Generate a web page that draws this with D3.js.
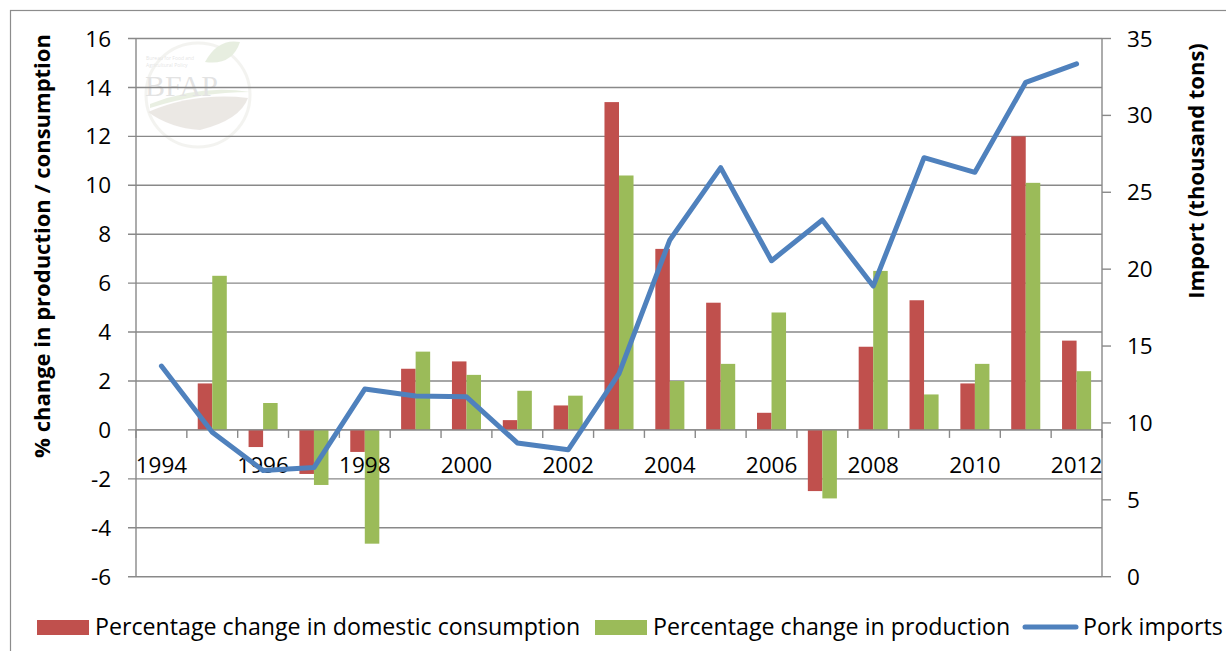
<!DOCTYPE html>
<html><head><meta charset="utf-8">
<script src="https://cdn.jsdelivr.net/npm/d3@7/dist/d3.min.js"></script>
<style>
body{margin:0;background:#fff;}
svg{display:block;font-family:"Open Sans",Lato,sans-serif;}
</style></head>
<body><svg id="c" width="1226" height="651"></svg>
<script>
const years = ["1994","1995","1996","1997","1998","1999","2000","2001","2002","2003","2004","2005","2006","2007","2008","2009","2010","2011","2012"];
const consumption = [null,1.9,-0.7,-1.8,-0.9,2.5,2.8,0.4,1.0,13.4,7.4,5.2,0.7,-2.5,3.4,5.3,1.9,12.0,3.65];
const production = [null,6.3,1.1,-2.25,-4.65,3.2,2.25,1.6,1.4,10.4,2.0,2.7,4.8,-2.8,6.5,1.45,2.7,10.1,2.4];
const imports = [13.7,9.4,6.9,7.1,12.2,11.75,11.7,8.7,8.25,13.2,21.9,26.6,20.55,23.2,18.9,27.25,26.3,32.15,33.35];
const leftTicks = [-6,-4,-2,0,2,4,6,8,10,12,14,16];
const rightTicks = [0,5,10,15,20,25,30,35];
const xLabels = ["1994","1996","1998","2000","2002","2004","2006","2008","2010","2012"];
const seriesNames = ["Percentage change in domestic consumption","Percentage change in production","Pork imports"];
const colors = {cons:"#C0504D", prod:"#9BBB59", imp:"#4F81BD"};

const svg = d3.select("#c");
const L = 136, R = 1102, T = 38.5, B = 576.7;
const x = d3.scaleBand().domain(years).range([L,R]).padding(0);
const bw = x.bandwidth(), barW = bw/3.5;
const xs = d3.scaleBand().domain(["cons","prod"]).range([0.75*barW, bw-0.75*barW]).padding(0);
const yL = d3.scaleLinear().domain([-6,16]).range([B,T]);
const yR = d3.scaleLinear().domain([0,35]).range([B,T]);
const grid = "#898989";

// outer border
svg.append("rect").attr("x",10.5).attr("y",10.5).attr("width",1240).attr("height",670)
  .attr("fill","none").attr("stroke","#8c8c8c").attr("stroke-width",1.2);

// watermark logo
const wm = svg.append("g").attr("opacity",0.16);
wm.append("circle").attr("cx",198).attr("cy",95).attr("r",52).attr("fill","none").attr("stroke","#b9b9a5").attr("stroke-width",3);
wm.append("path").attr("d","M148,112 Q195,92 248,98 Q240,120 200,130 Q170,128 148,112 Z").attr("fill","#8a7460");
wm.append("path").attr("d","M150,104 Q200,84 250,92 Q200,92 150,108 Z").attr("fill","#7aa050");
wm.append("path").attr("d","M205,62 Q218,38 240,42 Q232,66 205,62 Z").attr("fill","#6f9a45");
wm.append("text").attr("x",145).attr("y",96).attr("font-family","Liberation Serif,serif").attr("font-size",30).attr("fill","#555").text("BFAP");
wm.append("text").attr("x",146).attr("y",60).attr("font-size",5).attr("fill","#555").text("Bureau for Food and");
wm.append("text").attr("x",146).attr("y",67).attr("font-size",5).attr("fill","#555").text("Agricultural Policy");

// gridlines
svg.append("g").selectAll("line").data(leftTicks).join("line")
  .attr("x1",L-8).attr("x2",R).attr("y1",d=>yL(d)).attr("y2",d=>yL(d))
  .attr("stroke",grid).attr("stroke-width",1.4);
// left axis line
svg.append("line").attr("x1",L).attr("x2",L).attr("y1",T).attr("y2",B).attr("stroke",grid).attr("stroke-width",1.4);
// right axis
svg.append("line").attr("x1",R).attr("x2",R).attr("y1",T).attr("y2",B).attr("stroke",grid).attr("stroke-width",1.4);
svg.append("g").selectAll("line").data(rightTicks).join("line")
  .attr("x1",R).attr("x2",R+9).attr("y1",d=>yR(d)).attr("y2",d=>yR(d)).attr("stroke",grid).attr("stroke-width",1.4);

// left tick labels
svg.append("g").selectAll("text").data(leftTicks).join("text")
  .attr("x",111).attr("y",d=>yL(d)).attr("dy","0.36em").attr("text-anchor","end")
  .attr("font-size",22.5).attr("fill","#000").text(d=>d);
// right tick labels
svg.append("g").selectAll("text").data(rightTicks).join("text")
  .attr("x",1127).attr("y",d=>yR(d)).attr("dy","0.36em").attr("text-anchor","start")
  .attr("font-size",22.5).attr("fill","#000").text(d=>d);

// bars
const barG = svg.append("g");
years.forEach((yr,i)=>{
  [["cons",consumption[i]],["prod",production[i]]].forEach(([k,v])=>{
    if(v==null) return;
    barG.append("rect").attr("x",x(yr)+xs(k)).attr("width",xs.bandwidth())
      .attr("y",yL(Math.max(0,v))).attr("height",Math.abs(yL(v)-yL(0)))
      .attr("fill",colors[k]);
  });
});

// x axis line at 0 and ticks
const y0 = yL(0);
svg.append("line").attr("x1",L).attr("x2",R).attr("y1",y0).attr("y2",y0).attr("stroke",grid).attr("stroke-width",1.4);
const bounds = years.map(d=>x(d)).concat([R]);
svg.append("g").selectAll("line").data(bounds).join("line")
  .attr("x1",d=>d).attr("x2",d=>d).attr("y1",y0).attr("y2",y0+8).attr("stroke",grid).attr("stroke-width",1.4);
// x labels
svg.append("g").selectAll("text").data(xLabels).join("text")
  .attr("x",d=>x(d)+bw/2).attr("y",465).attr("dy","0.36em").attr("text-anchor","middle")
  .attr("font-size",22.5).attr("fill","#000").text(d=>d);

// line
const line = d3.line().x((d,i)=>x(years[i])+bw/2).y(d=>yR(d));
svg.append("path").datum(imports).attr("d",line).attr("fill","none")
  .attr("stroke",colors.imp).attr("stroke-width",5).attr("stroke-linejoin","round").attr("stroke-linecap","round");

// axis titles
svg.append("text").attr("transform","translate(50,246) rotate(-90)").attr("text-anchor","middle")
  .attr("font-size",22).attr("font-weight","bold").attr("fill","#000").text("% change in production / consumption");
svg.append("text").attr("transform","translate(1204,171) rotate(-90)").attr("text-anchor","middle")
  .attr("font-size",22).attr("font-weight","bold").attr("fill","#000").text("Import (thousand tons)");

// legend
const lg = svg.append("g").attr("font-size",23.2).attr("fill","#000");
lg.append("rect").attr("x",37).attr("y",620).attr("width",52).attr("height",15).attr("fill",colors.cons);
lg.append("text").attr("x",95).attr("y",627).attr("dy","0.36em").text(seriesNames[0]);
lg.append("rect").attr("x",595).attr("y",620).attr("width",52).attr("height",15).attr("fill",colors.prod);
lg.append("text").attr("x",653).attr("y",627).attr("dy","0.36em").text(seriesNames[1]);
lg.append("line").attr("x1",1025).attr("x2",1076).attr("y1",627).attr("y2",627).attr("stroke",colors.imp).attr("stroke-width",5).attr("stroke-linecap","round");
lg.append("text").attr("x",1083).attr("y",627).attr("dy","0.36em").text(seriesNames[2]);
</script></body></html>
